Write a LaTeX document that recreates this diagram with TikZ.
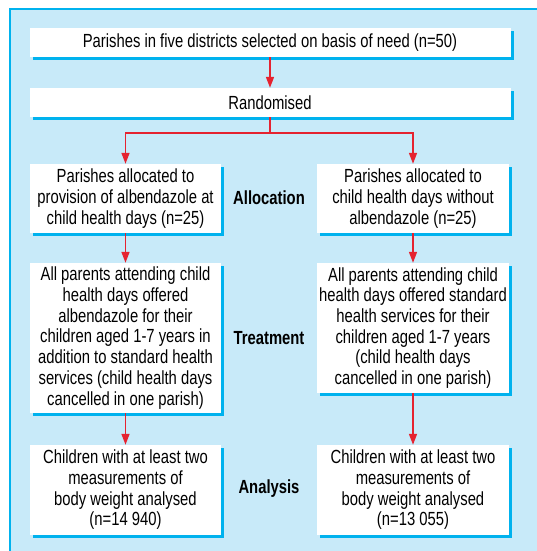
\documentclass[tikz,border=0pt]{standalone}
\usepackage{fontspec}
\setmainfont{Liberation Sans}[FakeStretch=0.78]
\usetikzlibrary{arrows.meta}
\definecolor{panelbg}{HTML}{C8EAF9}
\definecolor{cyanline}{HTML}{00B2EE}
\definecolor{arrred}{HTML}{E52330}
\tikzset{
  box/.style={rectangle, fill=white, inner sep=0pt, align=center,
    font=\fontsize{19}{20.7}\selectfont,
    preaction={fill=cyanline, transform canvas={xshift=3pt,yshift=-3pt}}},
  stage/.style={font=\fontsize{19}{20.7}\selectfont\bfseries, inner sep=0pt},
  conn/.style={draw=arrred, line width=1.6pt},
  arr/.style={conn, -{Triangle[length=11pt,width=8pt]}},
}
\begin{document}
\begin{tikzpicture}[x=1pt,y=-1pt]
\useasboundingbox (0,0) rectangle (536,551);
\fill[white] (0,0) rectangle (536,551);
\draw[fill=panelbg, draw=cyanline, line width=1.5pt] (10,9) rectangle (545,560);

\node[box, minimum width=481pt, minimum height=29pt] (top) at (270,42.5)
  {Parishes in five districts selected on basis of need (n=50)};
\node[box, minimum width=481pt, minimum height=29pt] (rand) at (270,102.5)
  {Randomised};

\node[box, minimum width=191pt, minimum height=69pt] (al1) at (125.5,198.5)
  {Parishes allocated to\\provision of albendazole at\\child health days (n=25)};
\node[box, minimum width=192pt, minimum height=69pt] (al2) at (413,198.5)
  {Parishes allocated to\\child health days without\\albendazole (n=25)};

\node[box, minimum width=191pt, minimum height=150pt] (tr1) at (125.5,338)
  {All parents attending child\\health days offered\\albendazole for their\\children aged 1-7 years in\\addition to standard health\\services (child health days\\cancelled in one parish)};
\node[box, minimum width=192pt, minimum height=130pt] (tr2) at (413,328)
  {All parents attending child\\health days offered standard\\health services for their\\children aged 1-7 years\\(child health days\\cancelled in one parish)};

\node[box, minimum width=191pt, minimum height=90pt] (an1) at (125.5,490)
  {Children with at least two\\measurements of\\body weight analysed\\(n=14 940)};
\node[box, minimum width=192pt, minimum height=90pt] (an2) at (413,490)
  {Children with at least two\\measurements of\\body weight analysed\\(n=13 055)};

\node[stage] (lalloc) at (269,198) {Allocation};
\node[stage] (ltreat) at (269,338) {Treatment};
\node[stage] (lanal) at (269,489) {Analysis};

\coordinate (j) at (rand.south |- 0,133);
\draw[arr] (top.south) -- (rand.north);
\draw[conn] (rand.south) -- (j);
\draw[arr] (j) -| (al1.north);
\draw[arr] (j) -| (al2.north);
\draw[arr] (al1.south) -- (tr1.north);
\draw[arr] (al2.south) -- (tr2.north);
\draw[arr] (tr1.south) -- (an1.north);
\draw[arr] (tr2.south) -- (an2.north);
\end{tikzpicture}
\end{document}
